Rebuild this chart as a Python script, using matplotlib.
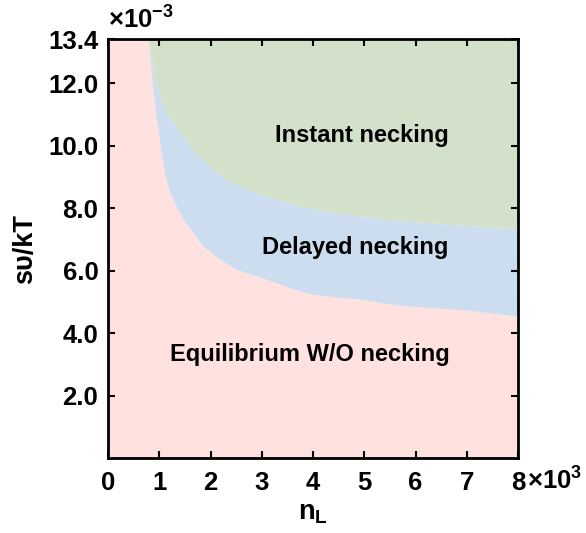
"""Phase diagram - necking regimes"""
import matplotlib
matplotlib.use('Agg')
import matplotlib.pyplot as plt

plt.rcParams['font.family'] = ['Liberation Sans', 'DejaVu Sans']
plt.rcParams['font.weight'] = 'bold'
plt.rcParams['mathtext.default'] = 'regular'

# boundary equilibrium / delayed (n_L in 1e3, s*v/kT in 1e-3)
lower_x = [0.79, 0.92, 1.01, 1.11, 1.21, 1.47, 1.86, 2.19, 2.51, 3.09, 3.55, 4.0, 5.0, 5.7, 7.0, 8.0]
lower_y = [13.4, 11.26, 10.19, 9.12, 8.48, 7.63, 6.77, 6.35, 6.03, 5.71, 5.44, 5.22, 5.05, 4.87, 4.72, 4.53]

# boundary delayed / instant
upper_x = [0.79, 0.92, 1.08, 1.24, 1.47, 1.70, 1.99, 2.32, 2.77, 3.23, 3.75, 4.40, 5.37, 6.67, 8.0]
upper_y = [13.4, 12.1, 11.26, 10.83, 10.30, 9.77, 9.34, 8.91, 8.55, 8.30, 8.05, 7.86, 7.63, 7.47, 7.31]

x_ticks = [0, 1, 2, 3, 4, 5, 6, 7, 8]
y_ticks = [2.0, 4.0, 6.0, 8.0, 10.0, 12.0, 13.4]
x_max, y_max = 8, 13.4

_PINK = '#ffe1df'
_BLUE = '#cbddef'
_GREEN = '#d3e1cb'

fig = plt.figure(figsize=(5.86, 5.33), dpi=100)
ax = fig.add_axes([0.1843, 0.1407, 0.6997, 0.7852])

# pink: below/left of lower boundary
ax.fill([0, 0] + lower_x + [x_max], [0, y_max] + lower_y + [0], color=_PINK, lw=0)
# blue: between boundaries
ax.fill(lower_x + upper_x[::-1], lower_y + upper_y[::-1], color=_BLUE, lw=0)
# green: above upper boundary
ax.fill(upper_x + [x_max], upper_y + [y_max], color=_GREEN, lw=0)

ax.text(4.96, 10.32, 'Instant necking', ha='center', va='center', fontsize=17, fontweight='bold')
ax.text(4.82, 6.73, 'Delayed necking', ha='center', va='center', fontsize=17, fontweight='bold')
ax.text(3.94, 3.33, 'Equilibrium W/O necking', ha='center', va='center', fontsize=17, fontweight='bold')

ax.set_xlim(0, x_max)
ax.set_ylim(0, y_max)
ax.set_xticks(x_ticks)
ax.set_xticklabels([str(t) for t in x_ticks])
ax.set_yticks(y_ticks)
ax.set_yticklabels([f'{t:.1f}' for t in y_ticks])
ax.tick_params(direction='in', length=5, width=1.5, top=True, right=True,
               labelsize=18.5)
ax.tick_params(axis='x', pad=9)
ax.tick_params(axis='y', pad=7)
for lbl in ax.get_xticklabels() + ax.get_yticklabels():
    lbl.set_fontweight('bold')
for sp in ax.spines.values():
    sp.set_linewidth(2)

ax.set_xlabel(r'n$_{L}$', fontsize=19.5, fontweight='bold', labelpad=4)
ax.set_ylabel('sυ/kT', fontsize=19.5, fontweight='bold', labelpad=7)

ax.text(1.022, -0.055, r'×10$^{3}$', transform=ax.transAxes,
        ha='left', va='center', fontsize=18.5, fontweight='bold')
ax.text(0.0, 1.046, r'×10$^{-3}$', transform=ax.transAxes,
        ha='left', va='center', fontsize=18.5, fontweight='bold')

plt.savefig('out.png', dpi=100)
plt.close(fig)
